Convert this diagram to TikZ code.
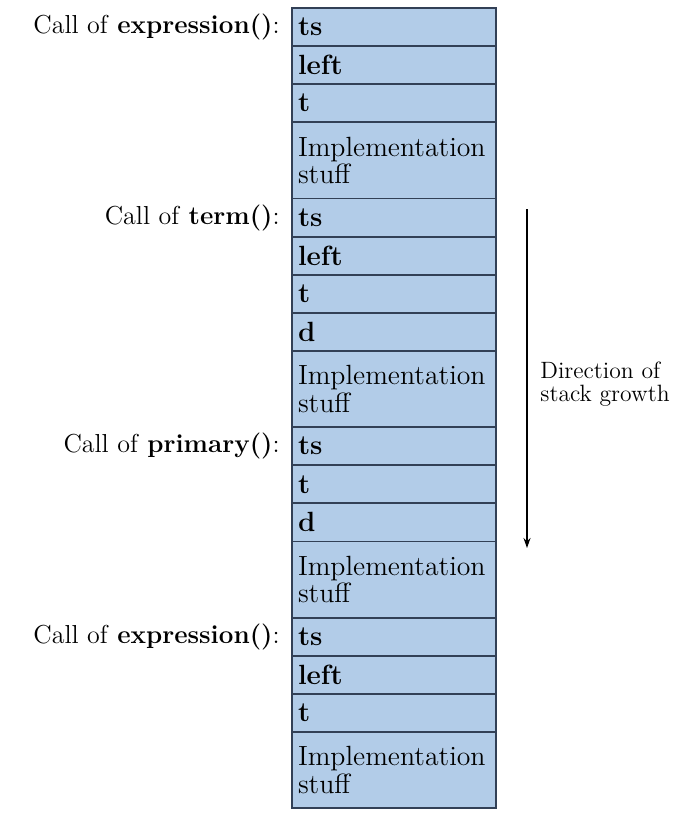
\documentclass[tikz,border=0pt]{standalone}
\usetikzlibrary{positioning,arrows.meta}
\definecolor{cellblue}{RGB}{178,204,232}
\definecolor{celledge}{RGB}{50,64,86}
\tikzset{
  cell/.style = {draw=celledge, line width=0.9pt, fill=cellblue,
                 minimum width=102pt, minimum height=19.05pt,
                 text width=96pt, inner xsep=3pt, inner ysep=0pt,
                 outer sep=0pt, align=left,
                 font=\fontsize{13.9}{13.6}\selectfont},
  bigcell/.style = {cell, minimum height=38.1pt},
  calllabel/.style = {inner sep=0pt, font=\fontsize{13}{14}\selectfont},
  growth/.style = {line width=0.6pt, -{Stealth[length=5pt,width=3.5pt]}}
}
\newcommand{\impl}{Implementation\\stuff}
\begin{document}
\begin{tikzpicture}
                \useasboundingbox (0,0) rectangle (349pt,-413pt);

                \node [cell, anchor=north west]  (ts1)   at (146pt,-4pt) {\textbf{ts}};
                \node [cell, below=0pt of ts1]    (left1) {\textbf{left}};
                \node [cell, below=0pt of left1]  (t1)    {\textbf{t}};
                \node [bigcell, below=0pt of t1]  (imp1)  {\impl};

                \node [cell, below=0pt of imp1]   (ts2)   {\textbf{ts}};
                \node [cell, below=0pt of ts2]    (left2) {\textbf{left}};
                \node [cell, below=0pt of left2]  (t2)    {\textbf{t}};
                \node [cell, below=0pt of t2]     (d2)    {\textbf{d}};
                \node [bigcell, below=0pt of d2]  (imp2)  {\impl};

                \node [cell, below=0pt of imp2]   (ts3)   {\textbf{ts}};
                \node [cell, below=0pt of ts3]    (t3)    {\textbf{t}};
                \node [cell, below=0pt of t3]     (d3)    {\textbf{d}};
                \node [bigcell, below=0pt of d3]  (imp3)  {\impl};

                \node [cell, below=0pt of imp3]   (ts4)   {\textbf{ts}};
                \node [cell, below=0pt of ts4]    (left4) {\textbf{left}};
                \node [cell, below=0pt of left4]  (t4)    {\textbf{t}};
                \node [bigcell, below=0pt of t4]  (imp4)  {\impl};

                \node [calllabel, left=6pt of ts1] (call1) {Call of \textbf{expression()}:};
                \node [calllabel, left=6pt of ts2] (call2) {Call of \textbf{term()}:};
                \node [calllabel, left=6pt of ts3] (call3) {Call of \textbf{primary()}:};
                \node [calllabel, left=6pt of ts4] (call4) {Call of \textbf{expression()}:};

                \coordinate (top) at (263.5pt,-104.5pt);
                \coordinate (bot) at (263.5pt,-274pt);
                \draw [growth] (top) -- (bot);
                \node [calllabel, anchor=west, align=left, font=\fontsize{11.8}{11.5}\selectfont]
                      (dir) at (270pt,-192pt) {Direction of\\stack growth};
            \end{tikzpicture}
\end{document}
